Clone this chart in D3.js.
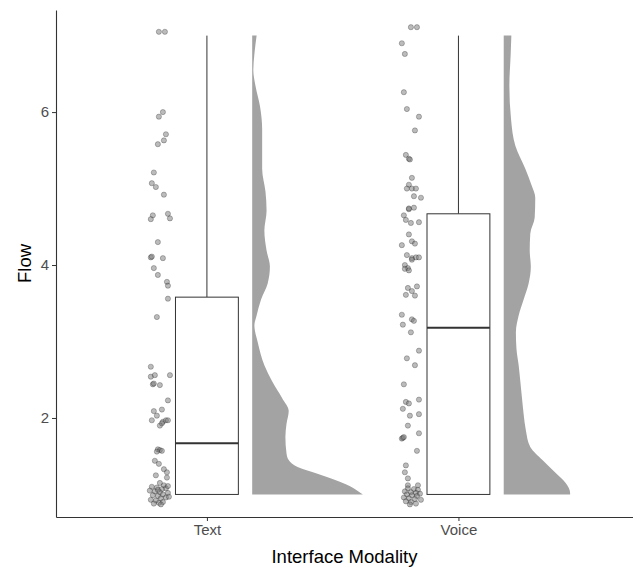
<!DOCTYPE html>
<html>
<head>
<meta charset="utf-8">
<script src="https://cdn.jsdelivr.net/npm/d3@7"></script>
<style>
  body { margin: 0; background: #fff; }
  svg { display: block; font-family: "Liberation Sans", Arial, sans-serif; }
</style>
</head>
<body>
<div id="chart"></div>
<script>
// categories on the x axis
const modalities = ["Text", "Voice"];
const yTicks = [2, 4, 6];

// raw points: [flow, horizontal jitter in category units]
const textPoints = [
  [7.05, -0.191], [7.05, -0.167], [6.00, -0.175], [5.94, -0.191], [5.71, -0.163],
  [5.63, -0.171], [5.58, -0.195], [5.21, -0.211], [5.07, -0.219], [5.02, -0.203],
  [4.92, -0.171], [4.65, -0.215], [4.60, -0.223], [4.67, -0.155], [4.61, -0.147],
  [4.30, -0.195], [4.10, -0.223], [4.11, -0.219], [4.09, -0.175], [3.96, -0.211],
  [3.87, -0.195], [3.78, -0.159], [3.73, -0.155], [3.56, -0.155], [3.32, -0.199],
  [2.67, -0.223], [2.54, -0.223], [2.56, -0.207], [2.56, -0.147], [2.44, -0.215],
  [2.45, -0.211], [2.43, -0.187], [2.23, -0.155], [2.09, -0.211], [2.11, -0.179],
  [2.03, -0.199], [1.97, -0.219], [1.90, -0.187], [1.95, -0.175], [1.97, -0.163],
  [1.97, -0.155], [1.93, -0.179], [1.59, -0.195], [1.58, -0.187], [1.57, -0.179],
  [1.56, -0.199], [1.44, -0.207], [1.40, -0.191], [1.33, -0.171], [1.29, -0.159],
  [1.25, -0.203], [1.22, -0.159], [1.15, -0.187], [1.12, -0.171], [1.10, -0.219],
  [1.09, -0.199], [1.08, -0.163], [1.07, -0.179], [1.05, -0.227], [1.04, -0.207],
  [1.03, -0.187], [1.02, -0.155], [1.00, -0.175], [0.99, -0.215], [0.98, -0.195],
  [0.96, -0.163], [0.95, -0.183], [0.93, -0.223], [0.92, -0.203], [0.90, -0.175],
  [0.89, -0.191], [0.88, -0.211], [0.87, -0.183], [1.06, -0.195], [0.97, -0.151],
  [1.11, -0.155]
];
const voicePoints = [
  [7.11, -0.189], [7.11, -0.165], [6.90, -0.225], [6.76, -0.213], [6.26, -0.217],
  [6.04, -0.205], [5.94, -0.157], [5.76, -0.173], [5.44, -0.209], [5.39, -0.197],
  [5.38, -0.193], [5.14, -0.185], [5.05, -0.197], [5.00, -0.205], [5.00, -0.185],
  [5.00, -0.169], [4.90, -0.177], [4.88, -0.149], [4.73, -0.197], [4.74, -0.197],
  [4.75, -0.177], [4.65, -0.217], [4.59, -0.209], [4.55, -0.189], [4.56, -0.157],
  [4.40, -0.197], [4.31, -0.185], [4.28, -0.173], [4.26, -0.225], [4.13, -0.205],
  [4.09, -0.185], [4.10, -0.169], [4.10, -0.157], [4.00, -0.213], [3.96, -0.201],
  [4.07, -0.185], [3.95, -0.213], [3.93, -0.197], [3.70, -0.201], [3.66, -0.185],
  [3.72, -0.165], [3.61, -0.209], [3.60, -0.173], [3.35, -0.225], [3.22, -0.221],
  [3.29, -0.185], [3.27, -0.177], [3.12, -0.189], [2.88, -0.157], [2.78, -0.205],
  [2.69, -0.173], [2.44, -0.217], [2.21, -0.209], [2.19, -0.197], [2.12, -0.221],
  [2.24, -0.157], [2.03, -0.193], [2.05, -0.157], [1.90, -0.201], [1.73, -0.225],
  [1.74, -0.221], [1.75, -0.217], [1.80, -0.157], [1.57, -0.165], [1.38, -0.209],
  [1.29, -0.213], [1.21, -0.201], [1.12, -0.201], [1.12, -0.161], [1.08, -0.201],
  [1.07, -0.177], [1.06, -0.161], [1.04, -0.213], [1.03, -0.189], [1.02, -0.169],
  [1.01, -0.153], [1.00, -0.205], [0.99, -0.185], [0.98, -0.165], [0.96, -0.217],
  [0.95, -0.197], [0.94, -0.173], [0.93, -0.149], [0.91, -0.209], [0.90, -0.189],
  [0.88, -0.169], [0.87, -0.193]
];

// box plot summaries, one entry per modality
const boxMin = [1, 1];
const boxQ1 = [1, 1];
const boxMedian = [1.67, 3.18];
const boxQ3 = [3.58, 4.67];
const boxMax = [7, 7];

// half-violin densities: [flow, relative density]
const textDensity = [
  [1.00, 1.00], [1.02, 0.98], [1.11, 0.88], [1.19, 0.75], [1.28, 0.57], [1.36, 0.41],
  [1.45, 0.33], [1.54, 0.31], [1.75, 0.30], [1.92, 0.31], [2.09, 0.33], [2.26, 0.27],
  [2.48, 0.18], [2.69, 0.11], [2.99, 0.05], [3.21, 0.02], [3.34, 0.04], [3.55, 0.08],
  [3.76, 0.14], [3.98, 0.16], [4.19, 0.13], [4.45, 0.11], [4.71, 0.13], [4.96, 0.12],
  [5.26, 0.09], [5.48, 0.09], [5.78, 0.09], [6.08, 0.07], [6.34, 0.03], [6.55, 0.01],
  [6.76, 0.02], [7.00, 0.04]
];
const voiceDensity = [
  [1.00, 0.60], [1.02, 0.60], [1.15, 0.56], [1.28, 0.47], [1.45, 0.35], [1.62, 0.24],
  [1.84, 0.20], [2.05, 0.18], [2.26, 0.165], [2.48, 0.15], [2.69, 0.135], [2.91, 0.115],
  [3.12, 0.11], [3.34, 0.135], [3.55, 0.18], [3.76, 0.225], [3.98, 0.245], [4.19, 0.235],
  [4.41, 0.24], [4.62, 0.28], [4.88, 0.285], [5.05, 0.25], [5.26, 0.195], [5.56, 0.105],
  [5.91, 0.066], [6.34, 0.051], [6.76, 0.063], [7.00, 0.069]
];

const pointsBy = [textPoints, voicePoints];
const densityBy = [textDensity, voiceDensity];

const width = 633, height = 569;
const margin = {top: 10, right: 0, bottom: 52, left: 56};

const svg = d3.select("#chart")
  .append("svg")
  .attr("width", width)
  .attr("height", height);

// x in category units: Text = 1, Voice = 2
const x = d3.scaleLinear()
  .domain([0.4, 2.694])
  .range([margin.left, width - margin.right]);

const y = d3.scaleLinear()
  .domain([0.705, 7.335])
  .range([height - margin.bottom, margin.top]);

const boxHalf = 0.125;
const violinGap = 0.18;
const violinWidth = d3.scaleLinear().domain([0, 1]).range([0, 0.44]);

// half violins
modalities.forEach((m, i) => {
  const c = i + 1;
  const area = d3.area()
    .y(d => y(d[0]))
    .x0(x(c + violinGap))
    .x1(d => x(c + violinGap + violinWidth(d[1])))
    .curve(d3.curveMonotoneY);
  svg.append("path")
    .datum(densityBy[i])
    .attr("d", area)
    .attr("fill", "#a3a3a3");
});

// box plots
const boxes = svg.selectAll(".box")
  .data(modalities)
  .enter().append("g")
  .attr("class", "box");

boxes.append("line")
  .attr("x1", (d, i) => x(i + 1))
  .attr("x2", (d, i) => x(i + 1))
  .attr("y1", (d, i) => y(boxQ3[i]))
  .attr("y2", (d, i) => y(boxMax[i]))
  .attr("stroke", "#333")
  .attr("stroke-width", 1);

boxes.append("line")
  .attr("x1", (d, i) => x(i + 1))
  .attr("x2", (d, i) => x(i + 1))
  .attr("y1", (d, i) => y(boxQ1[i]))
  .attr("y2", (d, i) => y(boxMin[i]))
  .attr("stroke", "#333")
  .attr("stroke-width", 1);

boxes.append("rect")
  .attr("x", (d, i) => x(i + 1 - boxHalf))
  .attr("width", (d, i) => x(i + 1 + boxHalf) - x(i + 1 - boxHalf))
  .attr("y", (d, i) => y(boxQ3[i]))
  .attr("height", (d, i) => y(boxQ1[i]) - y(boxQ3[i]))
  .attr("fill", "white")
  .attr("stroke", "#333")
  .attr("stroke-width", 1);

boxes.append("line")
  .attr("x1", (d, i) => x(i + 1 - boxHalf))
  .attr("x2", (d, i) => x(i + 1 + boxHalf))
  .attr("y1", (d, i) => y(boxMedian[i]))
  .attr("y2", (d, i) => y(boxMedian[i]))
  .attr("stroke", "#333")
  .attr("stroke-width", 2);

// jittered raw points
modalities.forEach((m, i) => {
  svg.append("g").selectAll("circle")
    .data(pointsBy[i])
    .enter().append("circle")
    .attr("cx", d => x(i + 1 + d[1]))
    .attr("cy", d => y(d[0]))
    .attr("r", 2.6)
    .attr("fill", "#777")
    .attr("fill-opacity", 0.5)
    .attr("stroke", "#000")
    .attr("stroke-opacity", 0.3)
    .attr("stroke-width", 0.8);
});

// axes
const yAxis = svg.append("g")
  .attr("transform", `translate(${margin.left},0)`)
  .call(d3.axisLeft(y).tickValues(yTicks).tickSizeInner(4).tickSizeOuter(0)
    .tickPadding(3).tickFormat(d3.format("d")));

const xAxis = svg.append("g")
  .attr("transform", `translate(0,${height - margin.bottom})`)
  .call(d3.axisBottom(x).tickValues([1, 2]).tickSizeInner(4).tickSizeOuter(0)
    .tickPadding(3).tickFormat(d => modalities[d - 1]));

[yAxis, xAxis].forEach(g => {
  g.select(".domain").attr("stroke", "#333").attr("stroke-width", 1.1);
  g.selectAll(".tick line").attr("stroke", "#333");
  g.selectAll(".tick text")
    .attr("fill", "#4d4d4d")
    .style("font-size", "15px")
    .style("font-family", "'Liberation Sans', Arial, sans-serif");
});

// axis titles
svg.append("text")
  .attr("x", (margin.left + width - margin.right) / 2)
  .attr("y", 563)
  .attr("text-anchor", "middle")
  .style("font-size", "18.5px")
  .attr("fill", "#000")
  .text("Interface Modality");

svg.append("text")
  .attr("transform", `translate(31,${(margin.top + height - margin.bottom) / 2}) rotate(-90)`)
  .attr("text-anchor", "middle")
  .style("font-size", "18.5px")
  .attr("fill", "#000")
  .text("Flow");
</script>
</body>
</html>
